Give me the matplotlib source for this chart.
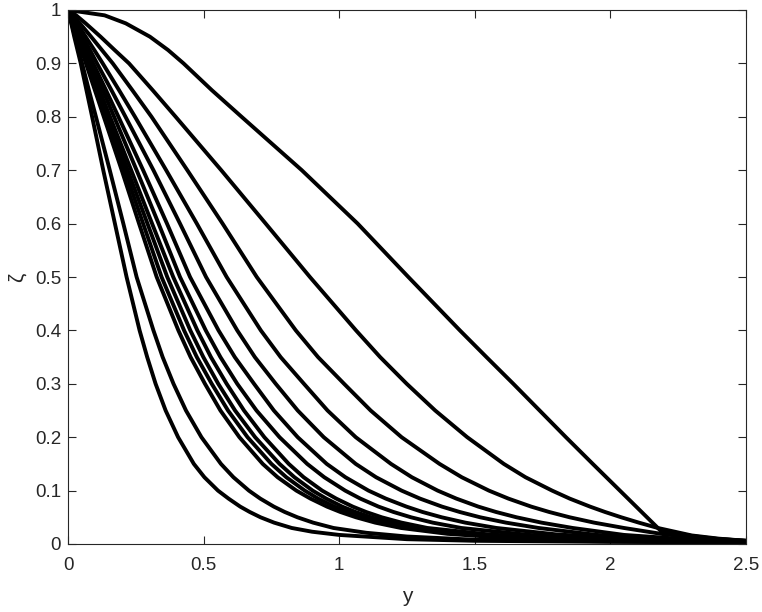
import matplotlib
matplotlib.use("Agg")
import matplotlib.pyplot as plt

# zeta levels at which the x position of every curve was read
zeta_levels = [1.0, 0.99, 0.975, 0.95, 0.925, 0.9, 0.85, 0.8, 0.7, 0.6, 0.5, 0.4, 0.35,
               0.3, 0.25, 0.2, 0.15, 0.125, 0.1, 0.085, 0.07, 0.06, 0.05, 0.04, 0.03]

# x position of each curve at zeta_levels (left to right)
x_at_levels = [
    [0, 0.005, 0.012, 0.023, 0.035, 0.047, 0.068, 0.089, 0.130, 0.173, 0.216, 0.264,
     0.292, 0.323, 0.360, 0.406, 0.464, 0.503, 0.553, 0.592, 0.635, 0.670, 0.710, 0.760, 0.825],
    [0, 0.005, 0.013, 0.026, 0.039, 0.052, 0.077, 0.103, 0.154, 0.204, 0.253, 0.315,
     0.349, 0.389, 0.435, 0.492, 0.564, 0.610, 0.667, 0.709, 0.759, 0.799, 0.846, 0.904, 0.979],
    [0, 0.007, 0.016, 0.033, 0.050, 0.066, 0.099, 0.132, 0.198, 0.262, 0.327, 0.407,
     0.452, 0.505, 0.562, 0.632, 0.718, 0.773, 0.842, 0.894, 0.955, 1.004, 1.062, 1.133, 1.228],
    [0, 0.007, 0.017, 0.035, 0.052, 0.070, 0.105, 0.140, 0.209, 0.277, 0.345, 0.428,
     0.475, 0.530, 0.590, 0.662, 0.750, 0.805, 0.873, 0.922, 0.982, 1.030, 1.087, 1.159, 1.254],
    [0, 0.007, 0.018, 0.037, 0.055, 0.074, 0.110, 0.147, 0.220, 0.293, 0.366, 0.451,
     0.499, 0.554, 0.616, 0.690, 0.780, 0.835, 0.902, 0.952, 1.011, 1.060, 1.118, 1.190, 1.285],
    [0, 0.008, 0.019, 0.039, 0.058, 0.078, 0.116, 0.155, 0.233, 0.310, 0.388, 0.477,
     0.527, 0.585, 0.649, 0.724, 0.814, 0.869, 0.937, 0.989, 1.050, 1.099, 1.157, 1.230, 1.325],
    [0, 0.008, 0.021, 0.042, 0.064, 0.085, 0.128, 0.170, 0.253, 0.334, 0.413, 0.508,
     0.562, 0.624, 0.695, 0.780, 0.882, 0.945, 1.022, 1.078, 1.145, 1.200, 1.265, 1.345, 1.450],
    [0, 0.009, 0.023, 0.046, 0.070, 0.093, 0.140, 0.186, 0.277, 0.365, 0.450, 0.555,
     0.615, 0.686, 0.759, 0.847, 0.954, 1.023, 1.108, 1.172, 1.248, 1.307, 1.378, 1.465, 1.580],
    [0, 0.011, 0.027, 0.054, 0.081, 0.107, 0.160, 0.212, 0.315, 0.413, 0.509, 0.624,
     0.689, 0.766, 0.847, 0.943, 1.061, 1.136, 1.230, 1.298, 1.379, 1.444, 1.520, 1.615, 1.735],
    [0, 0.014, 0.033, 0.065, 0.097, 0.128, 0.188, 0.247, 0.362, 0.475, 0.585, 0.711,
     0.784, 0.870, 0.957, 1.061, 1.191, 1.268, 1.363, 1.432, 1.513, 1.578, 1.654, 1.746, 1.861],
    [0, 0.019, 0.044, 0.085, 0.125, 0.165, 0.237, 0.308, 0.440, 0.570, 0.696, 0.840,
     0.922, 1.018, 1.116, 1.230, 1.370, 1.452, 1.552, 1.624, 1.708, 1.774, 1.850, 1.940, 2.050],
    [0, 0.030, 0.065, 0.120, 0.172, 0.225, 0.312, 0.397, 0.565, 0.729, 0.892, 1.062,
     1.151, 1.249, 1.354, 1.472, 1.607, 1.687, 1.785, 1.850, 1.925, 1.980, 2.040, 2.105, 2.175],
    [0, 0.135, 0.213, 0.302, 0.369, 0.426, 0.530, 0.640, 0.862, 1.068, 1.255, 1.445,
     1.543, 1.642, 1.739, 1.836, 1.935, 1.985, 2.035, 2.065, 2.095, 2.115, 2.135, 2.155, 2.175],
]

# tails below zeta = 0.03 (x, zeta)
tail_x = [
    [0.9, 1.0, 1.25, 1.5, 2.0, 2.5],
    [1.1, 1.25, 1.5, 2.0, 2.5],
    [1.4, 1.6, 2.0, 2.5],
    [1.45, 1.65, 2.0, 2.5],
    [1.5, 1.7, 2.0, 2.5],
    [1.55, 1.75, 2.0, 2.5],
    [1.7, 2.0, 2.5],
    [1.8, 2.0, 2.5],
    [1.95, 2.2, 2.5],
    [2.05, 2.25, 2.5],
    [2.2, 2.35, 2.5],
    [2.3, 2.4, 2.5],
    [2.185, 2.3, 2.4, 2.5],
]
tail_z = [
    [0.023, 0.017, 0.009, 0.006, 0.004, 0.003],
    [0.021, 0.014, 0.008, 0.005, 0.003],
    [0.019, 0.012, 0.007, 0.004],
    [0.019, 0.012, 0.007, 0.004],
    [0.018, 0.012, 0.008, 0.004],
    [0.018, 0.012, 0.008, 0.004],
    [0.017, 0.010, 0.004],
    [0.018, 0.012, 0.005],
    [0.017, 0.010, 0.005],
    [0.017, 0.010, 0.005],
    [0.018, 0.011, 0.006],
    [0.016, 0.010, 0.006],
    [0.025, 0.015, 0.009, 0.006],
]

x_ticks = [0, 0.5, 1, 1.5, 2, 2.5]
x_tick_labels = ["0", "0.5", "1", "1.5", "2", "2.5"]
y_ticks = [0, 0.1, 0.2, 0.3, 0.4, 0.5, 0.6, 0.7, 0.8, 0.9, 1]
y_tick_labels = ["0", "0.1", "0.2", "0.3", "0.4", "0.5", "0.6", "0.7", "0.8", "0.9", "1"]

plt.rcParams["font.family"] = ["Liberation Sans", "DejaVu Sans"]
axcol = "#262626"

fig = plt.figure(figsize=(7.62, 6.12), dpi=100)
ax = fig.add_axes([68 / 762, 1 - 544 / 612, 678 / 762, 534 / 612])

for xs, tx, tz in zip(x_at_levels, tail_x, tail_z):
    ax.plot(list(xs) + tx, list(zeta_levels) + tz, color="black", lw=2.8,
            solid_joinstyle="round", solid_capstyle="round")

ax.set_xlim(0, 2.5)
ax.set_ylim(0, 1)
ax.set_xticks(x_ticks)
ax.set_xticklabels(x_tick_labels)
ax.set_yticks(y_ticks)
ax.set_yticklabels(y_tick_labels)
ax.tick_params(direction="in", length=6, width=0.8, colors=axcol,
               labelsize=13.5, top=True, right=True)
ax.tick_params(axis="x", pad=9)
ax.tick_params(axis="y", pad=5)
for s in ax.spines.values():
    s.set_color(axcol)
    s.set_linewidth(0.8)

ax.set_xlabel("y", fontsize=15, color=axcol, labelpad=10)
ax.set_ylabel("ζ", fontsize=15, color=axcol, labelpad=6)

fig.savefig("out.png", dpi=100)
